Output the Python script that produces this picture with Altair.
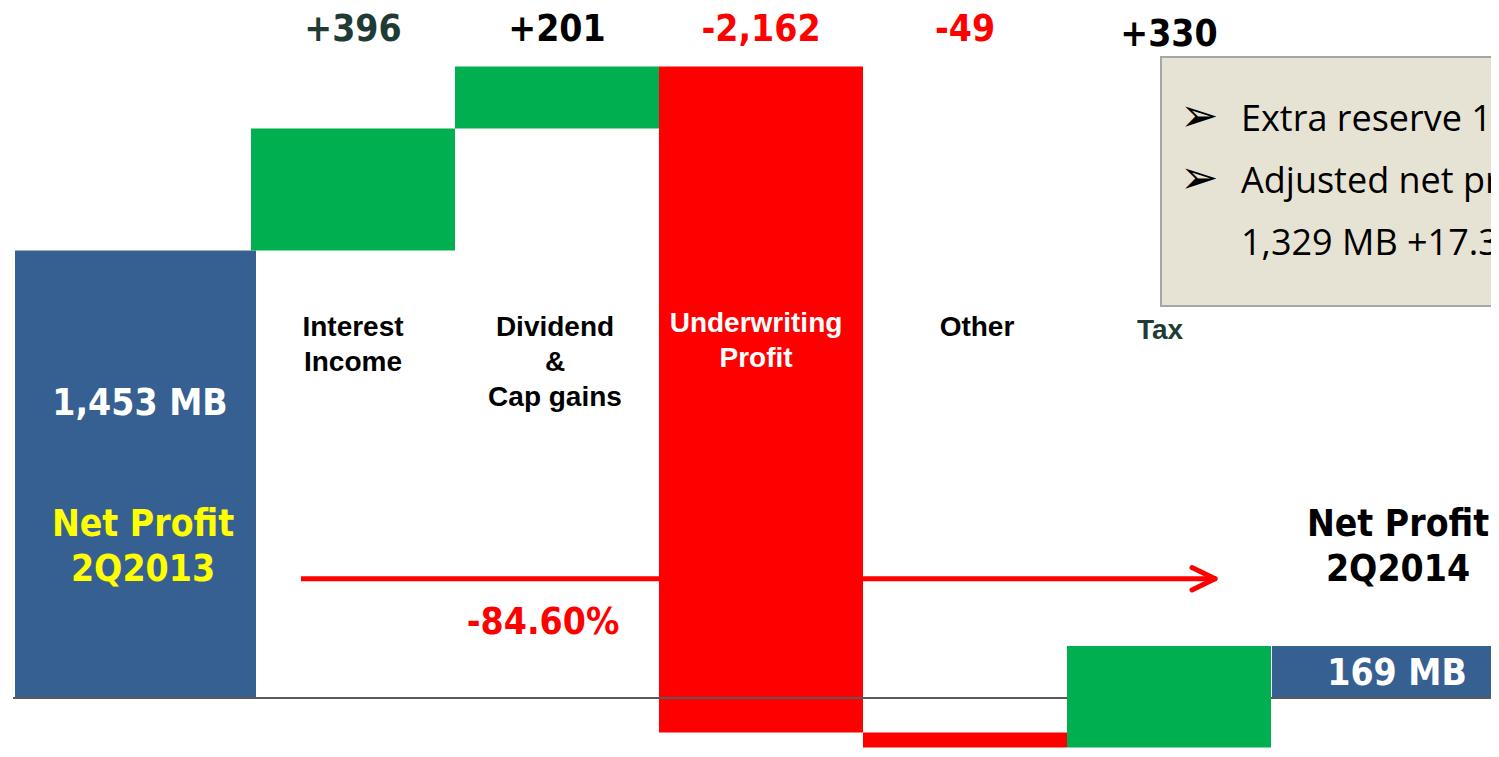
import altair as alt
import pandas as pd

# ---------------- data ----------------
categories = ["Net Profit 2Q2013", "Interest Income", "Dividend & Cap gains",
              "Underwriting Profit", "Other", "Tax", "Net Profit 2Q2014"]
opening_value = 1453
changes = [396, 201, -2162, -49, 330]
change_labels = ["+396", "+201", "-2,162", "-49", "+330"]
change_label_colors = ["#1F3B36", "#000000", "#FF0000", "#FF0000", "#000000"]
category_lines = [["Interest", "Income"], ["Dividend", "&", "Cap gains"],
                  ["Underwriting", "Profit"], ["Other"], ["Tax"]]
total_labels = ["1,453 MB", "169 MB"]
period_lines = [["Net Profit", "2Q2013"], ["Net Profit", "2Q2014"]]
pct_change_label = "-84.60%"
note_lines = ["Extra reserve 1,160 MB", "Adjusted net profit", "1,329 MB +17.3%"]
note_bullets = ["\u27A2", "\u27A2"]

BLUE = "#376092"
GREEN = "#00B050"
RED = "#FF0000"
TEAL = "#1F3B36"

# ---------------- waterfall table ----------------
rows = [dict(cat=categories[0], lo=0, hi=opening_value, color=BLUE, role="first")]
level = opening_value
for c, ch in zip(categories[1:6], changes):
    new = level + ch
    rows.append(dict(cat=c, lo=level, hi=new, color=GREEN if ch > 0 else RED,
                     role="tax" if c == "Tax" else "mid"))
    level = new
rows.append(dict(cat=categories[6], lo=0, hi=level, color=BLUE, role="last"))
bars = pd.DataFrame(rows)

deltas = pd.DataFrame(dict(cat=categories[1:6], label=change_labels, color=change_label_colors))

W, H = 1483, 760
k = 0.308
base_y = 690
x_scale = alt.Scale(type="band", domain=categories, range=[39, 1467], paddingInner=0, paddingOuter=0)
y_scale = alt.Scale(domain=[-(H - base_y) / k, base_y / k], nice=False, zero=False)
X = alt.X("cat:N", scale=x_scale, axis=None)


def bar_layer(role, **mk):
    return alt.Chart(bars).transform_filter(alt.datum.role == role).mark_bar(**mk).encode(
        x=X,
        y=alt.Y("lo:Q", scale=y_scale, axis=None),
        y2="hi:Q",
        color=alt.Color("color:N", scale=None),
    )


def text_at_cat(cat, text, color, font, size, y, dx=0, baseline="middle", line_height=None):
    df = pd.DataFrame({"cat": [cat], "t": [text]})
    kw = dict(font=font, fontSize=size, fontWeight="bold", color=color, align="center",
              baseline=baseline, dx=dx)
    if line_height:
        kw["lineHeight"] = line_height
    return alt.Chart(df).mark_text(**kw).encode(x=X, y=alt.value(y), text="t")


layers = []
layers.append(bar_layer("first", width=241, xOffset=-13.5))
layers.append(bar_layer("mid"))
layers.append(bar_layer("last", width=260, xOffset=29))

# baseline
layers.append(alt.Chart(pd.DataFrame({"v": [0]})).mark_rule(color="#595959", strokeWidth=2).encode(
    y=alt.Y("v:Q", scale=y_scale, axis=None), x=alt.value(5), x2=alt.value(1483)))

layers.append(bar_layer("tax"))

# arrow
arrow = pd.DataFrame({"v": [0]})
layers.append(alt.Chart(arrow).mark_rule(color=RED, strokeWidth=5).encode(
    x=alt.value(293), x2=alt.value(1206), y=alt.value(570.7)))
layers.append(alt.Chart(arrow).mark_rule(color=RED, strokeWidth=5, strokeCap="round").encode(
    x=alt.value(1184), x2=alt.value(1207), y=alt.value(559.5), y2=alt.value(570.7)))
layers.append(alt.Chart(arrow).mark_rule(color=RED, strokeWidth=5, strokeCap="round").encode(
    x=alt.value(1184), x2=alt.value(1207), y=alt.value(582), y2=alt.value(570.7)))

# change labels
DV = "DejaVu Sans Condensed, DejaVu Sans"
AR = "Liberation Sans, Arial"
BIG = 37
for i, r in deltas.iterrows():
    y = 26.5 if r["label"] == "+330" else 21.5
    layers.append(text_at_cat(r["cat"], r["label"], r["color"], DV, BIG, y))

# category labels
cat_specs = [
    (categories[1], category_lines[0], "#000000", 306, 0),
    (categories[2], category_lines[1], "#000000", 306, -2),
    (categories[3], category_lines[2], "#FFFFFF", 302, -5),
    (categories[4], category_lines[3], "#000000", 306, 12),
    (categories[5], category_lines[4], TEAL, 309, -9),
]
for cat, lines, col, y, dx in cat_specs:
    layers.append(text_at_cat(cat, lines, col, AR, 28, y, dx=dx, baseline="top", line_height=35))

# totals
layers.append(text_at_cat(categories[0], total_labels[0], "#FFFFFF", DV, BIG, 395.5, dx=-9))
layers.append(text_at_cat(categories[6], total_labels[1], "#FFFFFF", DV, BIG, 665.5, dx=24))
layers.append(text_at_cat(categories[0], period_lines[0], "#FFFF00", DV, BIG, 499, dx=-6,
                          baseline="top", line_height=45))
layers.append(text_at_cat(categories[6], period_lines[1], "#000000", DV, BIG, 499, dx=25,
                          baseline="top", line_height=45))

# percent change
layers.append(alt.Chart(pd.DataFrame({"t": [pct_change_label]})).mark_text(
    font=DV, fontSize=BIG, fontWeight="bold", color=RED, align="center", baseline="middle").encode(
    x=alt.value(535), y=alt.value(614.5), text="t"))

# note box
layers.append(alt.Chart(pd.DataFrame({"v": [0]})).mark_rect(
    fill="#E7E3D4", stroke="#A6A6A6", strokeWidth=2).encode(
    x=alt.value(1153), x2=alt.value(1530), y=alt.value(49), y2=alt.value(298)))
for i, line in enumerate(note_lines):
    layers.append(alt.Chart(pd.DataFrame({"t": [line]})).mark_text(
        font="Open Sans", fontSize=36, color="#000000", align="left", baseline="middle").encode(
        x=alt.value(1233), y=alt.value(111.5 + 62 * i), text="t"))
for i, b in enumerate(note_bullets):
    layers.append(alt.Chart(pd.DataFrame({"t": [b]})).mark_text(
        font="DejaVu Sans", fontSize=46, fontWeight="bold", color="#000000", align="left",
        baseline="middle").encode(
        x=alt.value(1172), y=alt.value(109 + 62 * i), text="t"))

chart = alt.layer(*layers).properties(
    width=W, height=H, autosize=alt.AutoSizeParams(type="none"), padding=0,
    background="#FFFFFF",
).configure_view(stroke=None)

chart.save("out.html", embed_options={"renderer": "svg", "actions": False})
